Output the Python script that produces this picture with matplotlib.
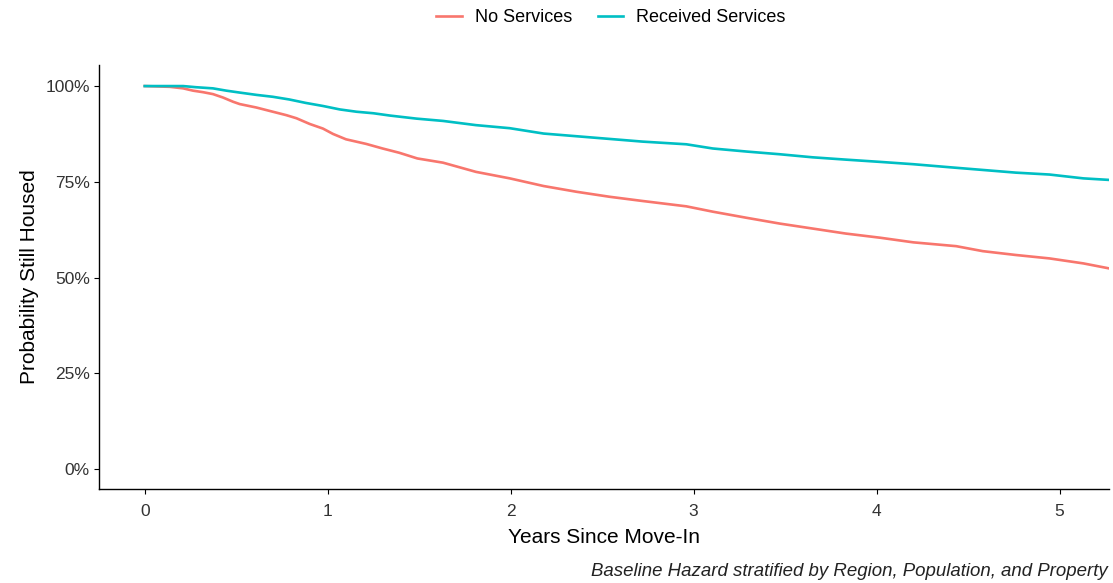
import matplotlib.pyplot as plt
from matplotlib.ticker import PercentFormatter

# survival curves (years since move-in, share still housed)
no_services_t = [0.0, 0.137, 0.21, 0.264, 0.319, 0.373, 0.428, 0.483, 0.519, 0.61, 0.70,
                 0.774, 0.829, 0.902, 0.974, 1.029, 1.10, 1.21, 1.30, 1.39, 1.49, 1.63,
                 1.81, 1.995, 2.18, 2.36, 2.54, 2.72, 2.96, 3.105, 3.29, 3.47, 3.65, 3.83,
                 4.02, 4.20, 4.435, 4.58, 4.76, 4.945, 5.13, 5.27]
no_services_s = [1.000, 0.998, 0.994, 0.988, 0.984, 0.979, 0.970, 0.959, 0.953, 0.944, 0.933,
                 0.924, 0.916, 0.901, 0.889, 0.875, 0.861, 0.849, 0.837, 0.826, 0.811, 0.800,
                 0.776, 0.759, 0.739, 0.724, 0.711, 0.700, 0.686, 0.672, 0.656, 0.641, 0.628, 0.615,
                 0.604, 0.592, 0.582, 0.569, 0.559, 0.550, 0.537, 0.524]

services_t = [0.0, 0.21, 0.28, 0.373, 0.446, 0.519, 0.61, 0.70, 0.79, 0.88, 0.974,
              1.066, 1.157, 1.25, 1.34, 1.485, 1.63, 1.81, 1.995, 2.18, 2.36, 2.54,
              2.72, 2.96, 3.105, 3.29, 3.47, 3.65, 3.83, 4.02, 4.20, 4.40, 4.58, 4.76,
              4.945, 5.13, 5.27]
services_s = [1.000, 1.000, 0.997, 0.994, 0.988, 0.983, 0.977, 0.972, 0.965, 0.956, 0.948,
              0.939, 0.933, 0.929, 0.923, 0.915, 0.909, 0.898, 0.890, 0.876, 0.869, 0.862,
              0.855, 0.848, 0.837, 0.829, 0.822, 0.814, 0.808, 0.802, 0.796, 0.788, 0.781, 0.774,
              0.769, 0.759, 0.755]

plt.rcParams['font.family'] = ['Liberation Sans', 'DejaVu Sans']

fig = plt.figure(figsize=(11.13, 5.83), dpi=100)
ax = fig.add_axes([99 / 1113, 1 - 489 / 583, 1010 / 1113, 424 / 583])

ax.plot(no_services_t, no_services_s, color='#F8766D', lw=1.9, label='No Services')
ax.plot(services_t, services_s, color='#00BFC4', lw=1.9, label='Received Services')

ax.set_xlim(-0.25, 5.27)
ax.set_ylim(-0.052, 1.055)
ax.set_xticks([0, 1, 2, 3, 4, 5])
ax.set_yticks([0, 0.25, 0.5, 0.75, 1.0])
ax.yaxis.set_major_formatter(PercentFormatter(1.0, decimals=0))

for side in ['top', 'right']:
    ax.spines[side].set_visible(False)
for side in ['left', 'bottom']:
    ax.spines[side].set_linewidth(1.0)
    ax.spines[side].set_color('black')
ax.tick_params(direction='out', length=3.5, width=0.8, colors='black', labelcolor='#333333', labelsize=12.5)
ax.tick_params(axis='y', pad=3)
ax.tick_params(axis='x', pad=7)

ax.set_xlabel('Years Since Move-In', fontsize=15, labelpad=7)
ax.set_ylabel('Probability Still Housed', fontsize=15, labelpad=5)

fig.legend(loc='upper center', bbox_to_anchor=(611 / 1113, 1 + 7 / 583), ncol=2, frameon=False,
           fontsize=13, handlelength=1.4, handletextpad=0.75, columnspacing=1.4)

fig.text(1108 / 1113, 1 - 571 / 583, 'Baseline Hazard stratified by Region, Population, and Property',
         ha='right', va='center', fontsize=13.4, style='italic', color='#222222')

fig.savefig('out.png', dpi=100)
